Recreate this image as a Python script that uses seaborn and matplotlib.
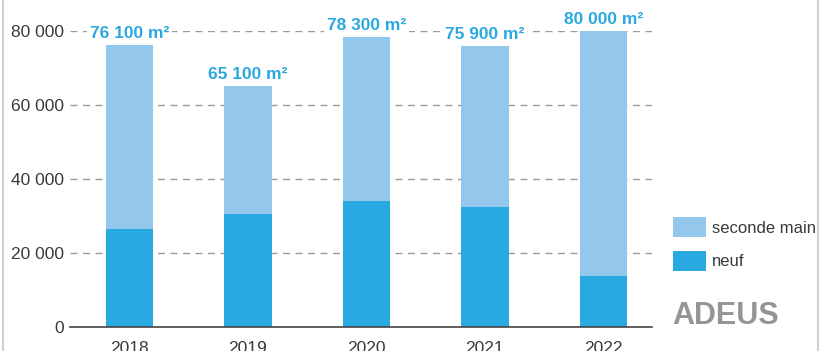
import matplotlib
matplotlib.use("Agg")
import matplotlib.pyplot as plt
from matplotlib.lines import Line2D
from matplotlib.patches import Patch
import seaborn as sns
import pandas as pd

years = ["2018", "2019", "2020", "2021", "2022"]
totals = [76100, 65100, 78300, 75900, 80000]
neuf = [26500, 30500, 34000, 32400, 13800]
seconde_main = [t - n for t, n in zip(totals, neuf)]
yticks = [0, 20000, 40000, 60000, 80000]

c_neuf = "#29a9e1"
c_sec = "#93c8ec"
c_lab = "#2aa8e0"
c_txt = "#3a3a3a"

sns.set_theme(style="white")
plt.rcParams["font.family"] = ["Liberation Sans", "DejaVu Sans"]

df = pd.DataFrame({"annee": years, "total": totals, "neuf": neuf})

fig = plt.figure(figsize=(8.21, 3.51), dpi=100)
# y=0 sits at pixel row 327, y=80000 at row 31
ax = fig.add_axes([70 / 821, (351 - 327) / 351, (652 - 70) / 821, (327 - 31) / 351])

sns.barplot(data=df, x="annee", y="total", color=c_sec, width=0.4,
            saturation=1, ax=ax, edgecolor="none")
sns.barplot(data=df, x="annee", y="neuf", color=c_neuf, width=0.4,
            saturation=1, ax=ax, edgecolor="none")

ax.set_xlim(-0.5, 4.41)
ax.set_ylim(0, 80000)
ax.set_yticks(yticks)
ax.set_yticklabels([f"{v:,}".replace(",", " ") for v in yticks])
ax.set_xlabel("")
ax.set_ylabel("")
ax.yaxis.grid(True, linestyle=(0, (5, 4)), color="#9a9a9a", linewidth=1.0)
ax.set_axisbelow(True)
for s in ["top", "right", "left"]:
    ax.spines[s].set_visible(False)
ax.spines["bottom"].set_color("#444444")
ax.spines["bottom"].set_linewidth(1.2)
ax.tick_params(axis="y", length=0, pad=4, labelsize=12.5, labelcolor=c_txt)
ax.tick_params(axis="x", length=0, pad=10, labelsize=12.5, labelcolor=c_txt)

for i, t in enumerate(totals):
    ax.annotate(f"{t:,}".replace(",", " ") + " m²", (i, t), xytext=(0, 3),
                textcoords="offset points", ha="center", va="bottom",
                fontsize=12.5, color=c_lab, fontweight="semibold",
                bbox=dict(boxstyle="square,pad=0.15", facecolor="white",
                          edgecolor="none"),
                zorder=5)

handles = [Patch(facecolor=c_sec, edgecolor="none", label="seconde main"),
           Patch(facecolor=c_neuf, edgecolor="none", label="neuf")]
fig.legend(handles=handles, loc="upper left",
           bbox_to_anchor=(673 / 821, 1 - 217 / 351),
           frameon=False, fontsize=12, handlelength=2.0, handleheight=1.5,
           handletextpad=0.36, labelspacing=0.8, labelcolor=c_txt,
           borderpad=0, borderaxespad=0)

fig.text(672 / 821, 1 - 316 / 351, "ADEUS", fontsize=22, fontweight="bold",
         color="#8a8a8a", va="center", ha="left", alpha=0.9)

# thin frame lines on the sides of the panel
fig.add_artist(Line2D([3 / 821, 3 / 821], [0, 1], color="#d0d0d0", lw=1.5))
fig.add_artist(Line2D([818 / 821, 818 / 821], [0, 1], color="#d0d0d0", lw=1.5))

fig.savefig("out.png", dpi=100, facecolor="white")
